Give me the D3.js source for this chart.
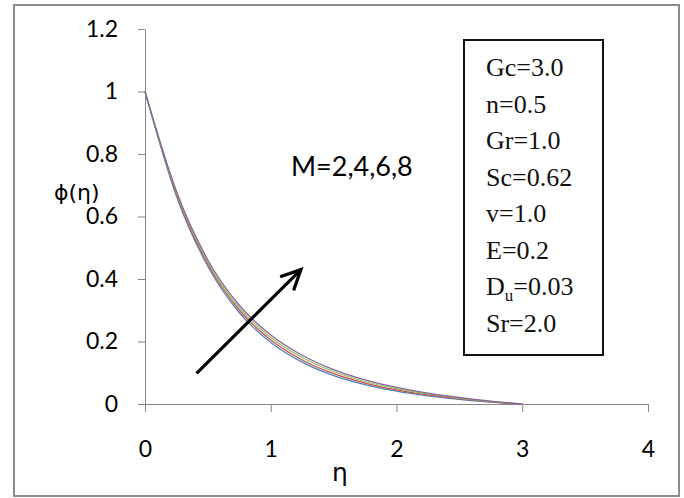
<!DOCTYPE html>
<html>
<head>
<meta charset="utf-8">
<script src="https://cdn.jsdelivr.net/npm/d3@7"></script>
<style>
  html, body { margin: 0; padding: 0; background: #fff; }
  svg { display: block; }
</style>
</head>
<body>
<svg id="chart" width="684" height="498"></svg>
<script>
// Concentration profiles phi(eta) for increasing magnetic parameter M
const eta = [0, 0.25, 0.5, 0.75, 1.0, 1.25, 1.5, 1.75, 2.0, 2.25, 2.5, 2.75, 3.0];
const phiM2 = [1, 0.665, 0.440, 0.292, 0.197, 0.134, 0.091, 0.062, 0.041, 0.026, 0.015, 0.006, 0];
const phiM4 = [1, 0.671, 0.447, 0.300, 0.205, 0.141, 0.097, 0.067, 0.045, 0.029, 0.017, 0.007, 0];
const phiM6 = [1, 0.676, 0.454, 0.308, 0.213, 0.149, 0.104, 0.072, 0.049, 0.032, 0.019, 0.008, 0];
const phiM8 = [1, 0.681, 0.461, 0.316, 0.221, 0.156, 0.110, 0.077, 0.053, 0.035, 0.021, 0.009, 0];
const seriesNames = ["M=2", "M=4", "M=6", "M=8"];
const seriesColors = ["#4F81BD", "#C0504D", "#9BBB59", "#8064A2"];

const xTicks = [0, 1, 2, 3, 4];
const xTickLabels = ["0", "1", "2", "3", "4"];
const yTicks = [0, 0.2, 0.4, 0.6, 0.8, 1.0, 1.2];
const yTickLabels = ["0", "0.2", "0.4", "0.6", "0.8", "1", "1.2"];

// Parameter box entries: [main text, subscript, rest]
const params = [
  ["Gc=3.0", "", ""],
  ["n=0.5", "", ""],
  ["Gr=1.0", "", ""],
  ["Sc=0.62", "", ""],
  ["v=1.0", "", ""],
  ["E=0.2", "", ""],
  ["D", "u", "=0.03"],
  ["Sr=2.0", "", ""]
];
const annotation = "M=2,4,6,8";
// Arrow showing the direction of increasing M, in data units
const arrowFrom = [0.41, 0.098];
const arrowTo = [1.24, 0.43];

const svg = d3.select("#chart");
const sansFont = "Lato, 'Open Sans', sans-serif";
const serifFont = "'Liberation Serif', 'DejaVu Serif', serif";

// Outer chart border
svg.append("rect")
  .attr("x", 14).attr("y", 5)
  .attr("width", 665).attr("height", 491)
  .attr("fill", "#fff")
  .attr("stroke", "#8c8c8c")
  .attr("stroke-width", 2);

const x = d3.scaleLinear().domain([0, 4]).range([145, 648]);
const y = d3.scaleLinear().domain([0, 1.2]).range([404, 29]);

// Y axis
const yAxis = svg.append("g")
  .attr("transform", `translate(${x(0)},0)`)
  .call(d3.axisLeft(y)
    .tickValues(yTicks)
    .tickFormat((d, i) => yTickLabels[i])
    .tickSize(7)
    .tickSizeOuter(0)
    .tickPadding(20));
yAxis.select(".domain").attr("stroke", "#868686");
yAxis.selectAll(".tick line").attr("stroke", "#868686");
yAxis.selectAll(".tick text")
  .attr("font-family", sansFont)
  .attr("font-size", 23)
  .attr("fill", "#000");

// X axis
const xAxis = svg.append("g")
  .attr("transform", `translate(0,${y(0)})`)
  .call(d3.axisBottom(x)
    .tickValues(xTicks)
    .tickFormat((d, i) => xTickLabels[i])
    .tickSize(8)
    .tickSizeOuter(0));
xAxis.select(".domain").attr("stroke", "#868686");
xAxis.selectAll(".tick line").attr("stroke", "#868686");
xAxis.selectAll(".tick text")
  .attr("dy", null)
  .attr("y", 53)
  .attr("font-family", sansFont)
  .attr("font-size", 23)
  .attr("fill", "#000");

// Curves
const allSeries = [phiM2, phiM4, phiM6, phiM8];
const line = d3.line()
  .x(d => x(d[0]))
  .y(d => y(d[1]))
  .curve(d3.curveMonotoneX);

svg.append("g").selectAll("path")
  .data(allSeries.map((vals, i) => ({ name: seriesNames[i], color: seriesColors[i], pts: eta.map((e, j) => [e, vals[j]]) })))
  .join("path")
  .attr("d", d => line(d.pts))
  .attr("fill", "none")
  .attr("stroke", d => d.color)
  .attr("stroke-width", 1.2);

// Axis titles
svg.append("text")
  .attr("x", 54).attr("y", 200)
  .attr("font-family", "'DejaVu Sans', sans-serif")
  .attr("font-size", 22)
  .attr("fill", "#000")
  .text("ϕ(η)");

svg.append("text")
  .attr("x", 340).attr("y", 481)
  .attr("text-anchor", "middle")
  .attr("font-family", "'DejaVu Sans', sans-serif")
  .attr("font-size", 25)
  .attr("fill", "#000")
  .text("η");

// M annotation and arrow
svg.append("text")
  .attr("x", 291).attr("y", 176)
  .attr("font-family", sansFont)
  .attr("font-size", 27)
  .attr("fill", "#000")
  .text(annotation);

const ax0 = x(arrowFrom[0]), ay0 = y(arrowFrom[1]);
const ax1 = x(arrowTo[0]), ay1 = y(arrowTo[1]);
svg.append("line")
  .attr("x1", ax0).attr("y1", ay0)
  .attr("x2", ax1).attr("y2", ay1)
  .attr("stroke", "#000")
  .attr("stroke-width", 3.2);
const ang = Math.atan2(ay1 - ay0, ax1 - ax0);
const headLen = 22, headAng = Math.PI / 7;
svg.append("path")
  .attr("d", `M${ax1 - headLen * Math.cos(ang - headAng)},${ay1 - headLen * Math.sin(ang - headAng)}
              L${ax1},${ay1}
              L${ax1 - headLen * Math.cos(ang + headAng)},${ay1 - headLen * Math.sin(ang + headAng)}`)
  .attr("fill", "none")
  .attr("stroke", "#000")
  .attr("stroke-width", 3.2)
  .attr("stroke-linejoin", "miter");

// Parameter box
svg.append("rect")
  .attr("x", 464).attr("y", 40)
  .attr("width", 139).attr("height", 315)
  .attr("fill", "#fff")
  .attr("stroke", "#111")
  .attr("stroke-width", 2);

const pText = svg.append("g")
  .attr("font-family", serifFont)
  .attr("font-size", 26)
  .attr("fill", "#111");
params.forEach((p, i) => {
  const t = pText.append("text")
    .attr("x", 486)
    .attr("y", 76 + i * 36.5);
  t.append("tspan").text(p[0]);
  if (p[1]) {
    t.append("tspan").attr("font-size", 17).attr("dy", 6).text(p[1]);
    t.append("tspan").attr("dy", -6).text(p[2]);
  }
});
</script>
</body>
</html>
